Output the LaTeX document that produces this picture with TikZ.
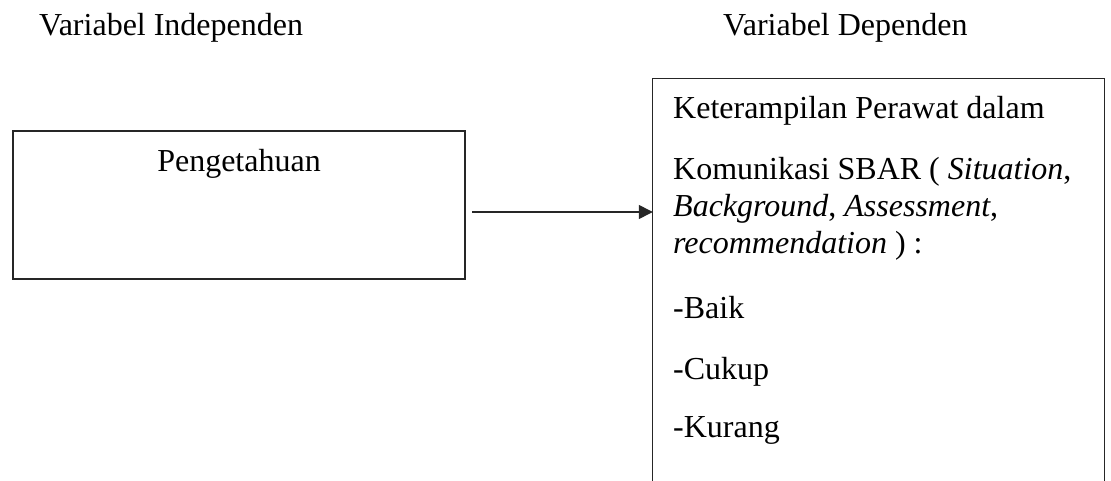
\documentclass[tikz,border=0pt]{standalone}
\usepackage{fontspec}
\setmainfont{Liberation Serif}
\usetikzlibrary{arrows.meta}
\begin{document}
\begin{tikzpicture}[x=1pt,y=-1pt,
  txt/.style={anchor=base west,inner sep=0pt,font=\fontsize{32}{38}\selectfont},
  ctxt/.style={anchor=base,inner sep=0pt,font=\fontsize{32}{38}\selectfont},
  boxline/.style={draw=black!85,line width=1.3pt},
  conn/.style={draw=black!85,line width=1.3pt,-{Triangle[length=14pt,width=14pt]}}]
\useasboundingbox (0,0) rectangle (1111,481);
% titles
\node[txt] (tind) at (39,36) {Variabel Independen};
\node[txt] (tdep) at (723,36) {Variabel Dependen};
% left box
\node[boxline,rectangle,minimum width=452pt,minimum height=148pt,inner sep=0pt] (indep) at (239,205) {};
\node[ctxt] (peng) at (239,172) {Pengetahuan};
% right box (open at the bottom)
\node[rectangle,minimum width=451pt,minimum height=402pt,inner sep=0pt] (dep) at (878.5,280) {};
\draw[boxline] (dep.south west) -- (dep.north west) -- (dep.north east) -- (dep.south east);
\node[txt] (l1) at (673,119) {Keterampilan Perawat dalam};
\node[txt] (l2) at (673,180) {Komunikasi SBAR ( \textit{Situation},};
\node[txt] (l3) at (673,217) {\textit{Background}, \textit{Assessment},};
\node[txt] (l4) at (673,253) {\textit{recommendation} ) :};
\node[txt] (l5) at (673,318) {-Baik};
\node[txt] (l6) at (673,379) {-Cukup};
\node[txt] (l7) at (673,437) {-Kurang};
% arrow
\coordinate (arrstart) at (472,212);
\draw[conn] (arrstart) -- (arrstart -| dep.west);
\end{tikzpicture}
\end{document}
